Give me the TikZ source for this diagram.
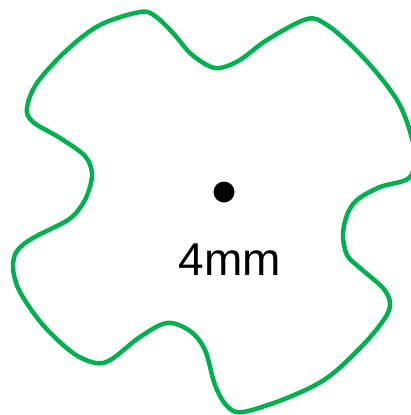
\documentclass[tikz,border=0pt]{standalone}
\usepackage{fontspec}
\setmainfont{Liberation Sans}
\definecolor{outlinegreen}{RGB}{0,176,80}
\tikzset{
  outline/.style={draw=outlinegreen, line width=4.5pt, line join=round},
  centerdot/.style={circle, fill=black, inner sep=0pt, minimum size=21pt},
  sizelabel/.style={inner sep=0pt, anchor=base, font=\fontsize{46}{55}\selectfont}
}
\begin{document}
\begin{tikzpicture}[x=1pt,y=-1pt]
\useasboundingbox (0,0) rectangle (411,415);
\begin{scope}
\clip (0,0) rectangle (411,415);
\draw[outline] plot[smooth cycle, tension=0.55] coordinates {
(140,12) (155,16) (173,33) (190,53) (207,65) (220,68) (240,60) (267,40) (307,19) (327,25) (353,47) (377,73) (397,100) (408,125) (415,155) (409,178) (380,187) (357,200) (347,215) (343,235) (347,255) (360,268) (383,288) (390,303) (385,318) (363,345) (327,378) (287,398) (243,412) (227,406) (215,385) (205,350) (190,331) (167,323) (140,337) (112,359) (96,363) (73,353) (43,325) (20,292) (13,268) (17,251) (33,238) (68,220) (82,205) (89,190) (92,173) (85,156) (60,138) (33,122) (27,108) (37,83) (67,50) (100,25)
};
\end{scope}
\node[centerdot] (dot) at (224,192) {};
\node[sizelabel] (label) at (230,275) {4mm};
\end{tikzpicture}
\end{document}
